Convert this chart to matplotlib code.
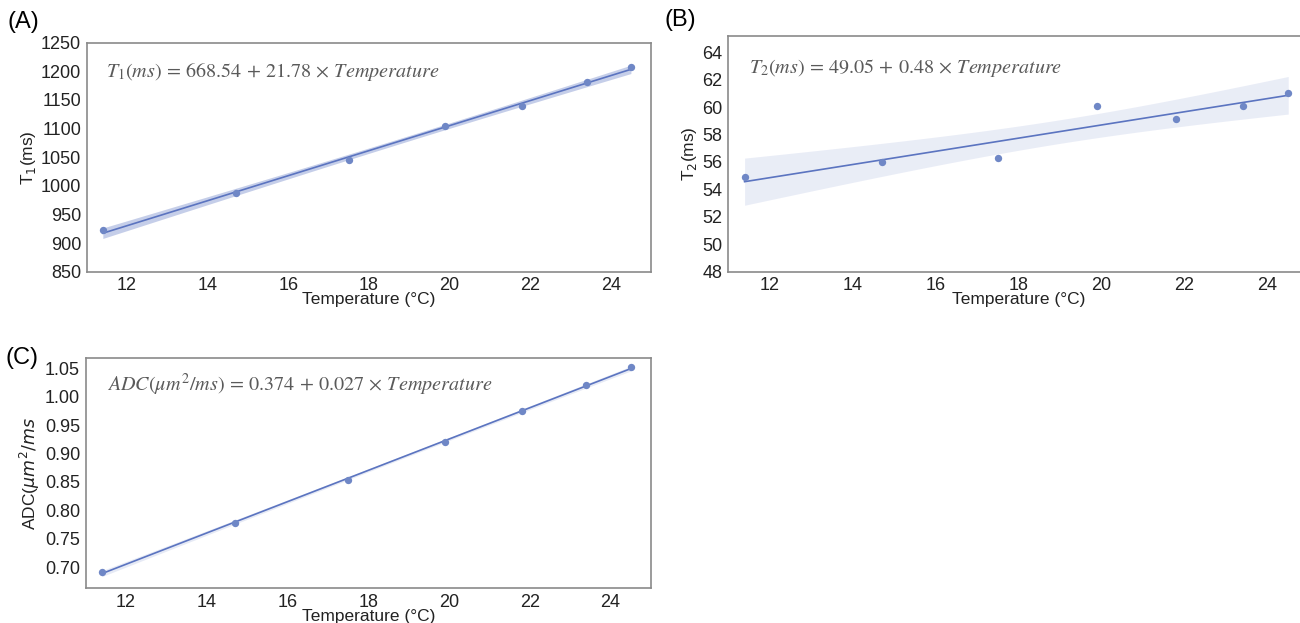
import numpy as np
import matplotlib
matplotlib.use("Agg")
import matplotlib.pyplot as plt

plt.rcParams['font.family'] = ['Liberation Sans', 'DejaVu Sans']

# temperatures (°C)
temperature = [11.4, 14.7, 17.5, 19.9, 21.8, 23.4, 24.5]

# measured values
t1_ms = [922, 987, 1045, 1105, 1139, 1182, 1207]
t2_ms = [54.9, 56.0, 56.3, 60.1, 59.15, 60.1, 61.04]
adc = [0.692, 0.777, 0.854, 0.921, 0.974, 1.020, 1.052]

t1_ticks = [850, 900, 950, 1000, 1050, 1100, 1150, 1200, 1250]
t2_ticks = [48, 50, 52, 54, 56, 58, 60, 62, 64]
adc_ticks = [0.70, 0.75, 0.80, 0.85, 0.90, 0.95, 1.00, 1.05]
x_ticks = [12, 14, 16, 18, 20, 22, 24]

point_color = "#6f87c6"
line_color = "#5b74c0"
spine_color = "#8a8a8a"
eq_color = "#5a5a5a"

fig = plt.figure(figsize=(13, 6.23), dpi=100)


def reg_panel(ax, x, y, yticks, ylim, ylabel, equation, eq_pos, band_alpha, ytickfmt):
    x = np.asarray(x, float)
    y = np.asarray(y, float)
    slope, intercept = np.polyfit(x, y, 1)
    xs = np.linspace(x.min(), x.max(), 100)
    fit = intercept + slope * xs

    # 95% confidence band for the regression line
    n = len(x)
    resid = y - (intercept + slope * x)
    s = np.sqrt(np.sum(resid ** 2) / (n - 2))
    sxx = np.sum((x - x.mean()) ** 2)
    se = s * np.sqrt(1.0 / n + (xs - x.mean()) ** 2 / sxx)
    tval = 2.571
    ax.fill_between(xs, fit - tval * se, fit + tval * se, color=line_color,
                    alpha=band_alpha, linewidth=0)

    ax.plot(xs, fit, color=line_color, lw=1.2)
    ax.scatter(x, y, s=28, color=point_color, zorder=3, linewidths=0)

    ax.set_xlim(11, 25)
    ax.set_ylim(*ylim)
    ax.set_xticks(x_ticks)
    ax.set_yticks(yticks)
    ax.set_yticklabels([ytickfmt.format(v) for v in yticks])
    ax.tick_params(length=0, labelsize=13, colors="#222222", pad=4)
    for sp in ax.spines.values():
        sp.set_color(spine_color)
        sp.set_linewidth(1.2)
    ax.set_xlabel("Temperature (°C)", fontsize=12.5, labelpad=-1.5, color="#222222")
    ax.set_ylabel(ylabel, fontsize=12.5, labelpad=2, color="#222222")
    ax.text(eq_pos[0], eq_pos[1], equation, transform=ax.transAxes, fontsize=14.5,
            color=eq_color, ha="left", va="center", math_fontfamily="stix")


ax_a = fig.add_axes([0.0667, 0.5639, 0.4341, 0.3676])
reg_panel(ax_a, temperature, t1_ms, t1_ticks, (850, 1250), r"T$_1$(ms)",
          r"$T_1(ms)\,=\,668.54\,+\,21.78\,\times\,Temperature$", (0.035, 0.87), 0.35, "{:d}")

ax_b = fig.add_axes([0.560, 0.5639, 0.4469, 0.3788])
reg_panel(ax_b, temperature, t2_ms, t2_ticks, (48, 65.2), r"T$_2$(ms)",
          r"$T_2(ms)\,=\,49.05\,+\,0.48\,\times\,Temperature$", (0.036, 0.865), 0.13, "{:d}")

ax_c = fig.add_axes([0.0659, 0.0557, 0.4348, 0.3692])
reg_panel(ax_c, temperature, adc, adc_ticks, (0.6625, 1.0676), r"ADC($\mu m^2/ms$",
          r"$ADC(\mu m^2/ms)\,=\,0.374\,+\,0.027\,\times\,Temperature$", (0.038, 0.885), 0.15, "{:.2f}")

fig.text(0.006, 1 - 22 / 623, "(A)", fontsize=17, va="center", ha="left")
fig.text(0.511, 1 - 20 / 623, "(B)", fontsize=17, va="center", ha="left")
fig.text(0.004, 1 - 358 / 623, "(C)", fontsize=17, va="center", ha="left")

fig.savefig("out.png", dpi=100)
